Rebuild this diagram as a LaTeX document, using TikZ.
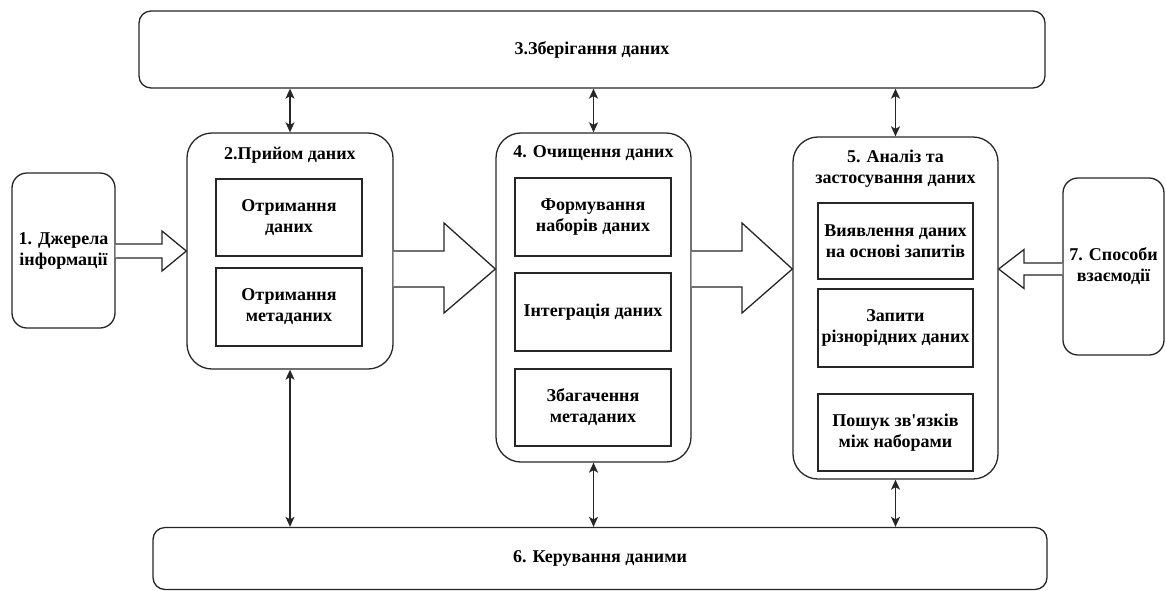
\documentclass[tikz,border=0pt]{standalone}
\usepackage{fontspec}
\setmainfont{Liberation Serif}
\usetikzlibrary{arrows.meta,calc}
\tikzset{
  lbl/.style={font=\fontsize{18}{21}\selectfont\bfseries, align=center, text=black},
  stage/.style={draw=black!85, line width=1.3pt, rounded corners=#1, fill=white, inner sep=0pt},
  stage/.default=12pt,
  subbox/.style={draw=black!85, line width=1.3pt, fill=white, inner sep=0pt, lbl},
  link/.style={draw=black!85, line width=1.3pt, {Stealth[length=10pt,width=9pt,inset=2.5pt]}-{Stealth[length=10pt,width=9pt,inset=2.5pt]}},
  flow/.style={draw=black!85, line width=1.3pt, fill=white, line join=miter}
}
\begin{document}
\begin{tikzpicture}[x=1pt, y=-1pt]
\useasboundingbox (0,0) rectangle (1166,590);

% storage and management bands
\node[stage=12pt, minimum width=906pt, minimum height=77pt, lbl] (b3) at (592,49.5) {3.Зберігання даних};
\node[stage=12pt, minimum width=894pt, minimum height=62pt, lbl] (b6) at (600,558.5) {6. Керування даними};

% sources and interaction
\node[stage=15pt, minimum width=103pt, minimum height=155pt, lbl] (b1) at (63.5,250.5) {1. Джерела\\інформації};
\node[stage=15pt, minimum width=101pt, minimum height=177pt, lbl] (b7) at (1113.5,266.5) {7. Способи\\взаємодії};

% ingestion
\node[stage=25pt, minimum width=206pt, minimum height=236pt] (b2) at (290,251) {};
\node[lbl] (t2) at (290,155) {2.Прийом даних};
\node[subbox, minimum width=146pt, minimum height=77pt] (b2a) at (289,217.5) {Отримання\\даних};
\node[subbox, minimum width=146pt, minimum height=78pt] (b2b) at (289,307) {Отримання\\метаданих};

% cleaning
\node[stage=25pt, minimum width=195pt, minimum height=329pt] (b4) at (593.5,297.5) {};
\node[lbl] (t4) at (593.5,153) {4. Очищення даних};
\node[subbox, minimum width=156pt, minimum height=78pt] (b4a) at (593,217) {Формування\\наборів даних};
\node[subbox, minimum width=156pt, minimum height=78pt] (b4b) at (593,312) {Інтеграція даних};
\node[subbox, minimum width=156pt, minimum height=77pt] (b4c) at (593,407.5) {Збагачення\\метаданих};

% analysis
\node[stage=25pt, minimum width=205pt, minimum height=342pt] (b5) at (895.5,308) {};
\node[lbl] (t5) at (895.5,168.5) {5. Аналіз та\\застосування даних};
\node[subbox, minimum width=155pt, minimum height=76pt] (b5a) at (895.5,241) {Виявлення даних\\на основі запитів};
\node[subbox, minimum width=155pt, minimum height=78pt] (b5b) at (895.5,328) {Запити\\різнорідних даних};
\node[subbox, minimum width=155pt, minimum height=77pt] (b5c) at (895.5,432.5) {Пошук зв\textquotesingle язків\\між наборами};

% block arrows between stages
\draw[flow] (b1.east |- 0,244) -- (162,244) -- (162,231) -- (b2.west |- 0,251)
  -- (162,271) -- (162,258) -- (b1.east |- 0,258);
\draw[flow] (b2.east |- 0,251) -- (444,251) -- (444,223) -- (b4.west |- 0,269)
  -- (444,313) -- (444,287) -- (b2.east |- 0,287);
\draw[flow] (b4.east |- 0,251) -- (742,251) -- (742,223) -- (b5.west |- 0,269)
  -- (742,313) -- (742,287) -- (b4.east |- 0,287);
\draw[flow] (b7.west |- 0,263) -- (1024,263) -- (1024,249.5) -- (b5.east |- 0,269)
  -- (1024,288.5) -- (1024,275) -- (b7.west |- 0,275);

% links to storage
\draw[link] (b3.south -| b2.north) -- (b2.north);
\draw[link] (b3.south -| b4.north) -- (b4.north);
\draw[link] (b3.south -| b5.north) -- (b5.north);

% links to management
\draw[link] (b2.south) -- (b6.north -| b2.south);
\draw[link] (b4.south) -- (b6.north -| b4.south);
\draw[link] (b5.south) -- (b6.north -| b5.south);
\end{tikzpicture}
\end{document}
